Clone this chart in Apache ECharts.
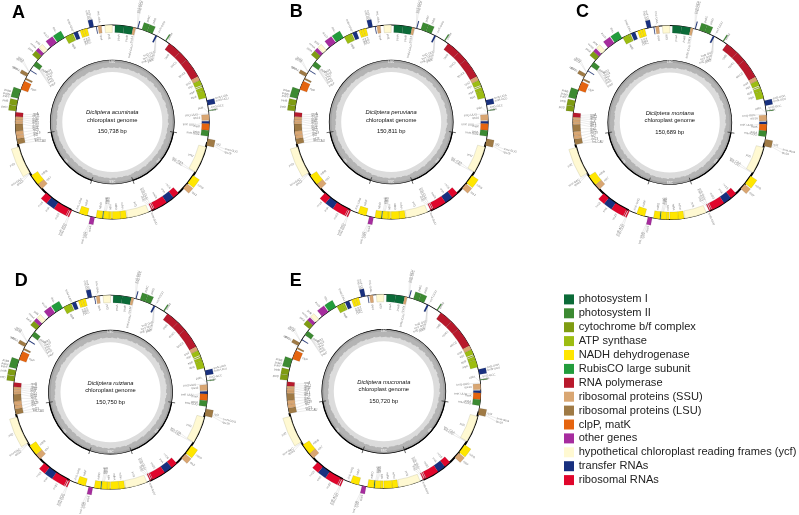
<!DOCTYPE html>
<html><head><meta charset="utf-8">
<style>html,body{margin:0;padding:0;background:#fff;overflow:hidden}#c{width:799px;height:515px;filter:blur(0.35px)}</style>
<script src="https://cdn.jsdelivr.net/npm/echarts@6/dist/echarts.min.js"></script>
</head><body><div id="c"></div>
<script>
// ---- genomes
const panelLetters=['A','B','C','D','E'];
const speciesNames=['Dicliptera acuminata','Dicliptera peruviana','Dicliptera montana','Dicliptera ruiziana','Dicliptera mucronata'];
const genomeSizes=['150,738 bp','150,811 bp','150,689 bp','150,750 bp','150,720 bp'];
// ---- legend
const groupNames=['photosystem I','photosystem II','cytochrome b/f complex','ATP synthase','NADH dehydrogenase','RubisCO large subunit','RNA polymerase','ribosomal proteins (SSU)','ribosomal proteins (LSU)','clpP, matK','other genes','hypothetical chloroplast reading frames (ycf)','transfer RNAs','ribosomal RNAs'];
const groupColors=['#0b6b38','#3c8a32','#7f9c12','#9dbd12','#ffe600','#229c3c','#b8192c','#d9a672','#9f7a45','#e5640f','#a62c9e','#fff9d2','#18307f','#e0062c'];
// ---- genes: position in degrees clockwise from the top of the map
const geneNames=['ycf3','psaA','psaB','rps14','','psbC','psbD','','','rpoB','rpoC1','rpoC2','rps2','atpI','','atpF','atpA','','','rps16','','matK','psbA','rpl2','ycf2','ndhB','rps7','rrn16','trnA','rrn23','','','ycf1','ndhH','ndhA','ndhI','','','ndhD','ccsA','ndhF','','','rrn23','trnA','rrn16','rps7','ndhB','ycf2','','','','','','','','','petD','petB','psbB','clpP','','rps12','','psbE','petA','cemA','ycf4','accD','rbcL','atpB','','','ndhC','ndhK','ndhJ','','','rps4'];
const geneStart=[355.6,1.6,7,12.5,15,17.7,21,26.5,33,36,44,50,62,64.5,68,69,71,77,83,85.5,89.5,91,95,100,105,123.5,129.5,137,141,146,154.3,155.4,158,171.5,175,180.4,182,185.5,186,190.5,195,204.5,205.7,206.5,214,219,226.5,230,238.5,256.7,260,262.2,264.6,268.8,270.2,271.7,273.2,276.5,279.7,284,289.5,296,298,302,305.5,310,313,315.5,320.5,325.5,331,335,336.5,340.5,342,343.5,346.5,350.3,351.5];
const geneEnd=[360,7,12.5,14,15.5,21,24.4,27.5,33.6,44,50,62,64.5,67.5,68.6,71,75.5,80,83.4,89,91,95,98.5,104,121,129,133,141,146,154,154.9,156,171,175,180,182,185.3,186,189.7,193,200,205.2,206.3,214,219,223,230,236.5,255,260,262.2,264.6,268.8,270.2,271.7,273.2,275.7,279.5,283,289.5,295,297,300,302.5,308.5,313,315,318,325,330.5,335,336,339,342,343.5,345,349,350.7,353.5];
const geneGroup=[11,0,0,7,12,1,1,12,1,6,6,6,7,3,3,3,3,12,1,7,12,9,1,8,11,4,7,13,12,13,13,13,11,4,4,4,4,0,4,10,4,13,13,13,12,13,7,4,11,8,7,7,8,7,7,7,6,2,2,1,9,8,8,12,1,2,10,11,10,5,3,3,12,4,4,4,12,12,7];
const geneSide=[-1,-1,-1,-1,1,1,1,-1,1,-1,-1,-1,-1,-1,-1,-1,-1,1,1,-1,-1,-1,-1,1,-1,1,1,-1,-1,-1,-1,-1,-1,-1,-1,-1,-1,-1,-1,1,-1,1,1,1,1,1,-1,-1,1,-1,-1,-1,-1,-1,-1,-1,-1,1,1,1,-1,-1,1,-1,-1,1,1,1,1,1,-1,-1,-1,-1,-1,-1,1,-1,-1];
// ---- labels joined to their gene by a thin line
const leaderNames=['trnS-GCU','trnG-UCC','trnT-GGU','psbM','trnS-GGA','trnT-UGU','trnL-UAA','trnM-CAU','rps18','rpl33','rpl20','psbT','psbN','trnS-UGA','trnR-UCU','trnG-GCC','psbK','trnH-GUG','rps19','rps12','trnV-GAC','trnN-GUU','rpl32','trnL-UAG','trnN-GUU','trnR-ACG',
  'trnfM-CAU','trnD-GUC','trnY-GUA','trnE-UUC','psbZ','psbI','trnQ-UUG','trnK-UUU','trnH-GUG','trnL-CAA','trnI-CAU','trnN-GUU','trnR-ACG','rrn5','trnL-UAG','ndhE','psaC','ndhG',
  'rpoA','rps11','rpl36','rps8','rpl14','rpl16','rps3','rpl22','rps19','rpl2','rpl23','trnI-CAU',
  'rpl33','rps18','psaJ','petL','petG','psbF'];
const leaderFrom=[15,15,27,33.3,347.5,347.5,350.5,337.5,301,301,297,285,285,78.5,78.5,83,83,102,102,238,238,156,192,192,205,205,
  14,27,27,27,27,84,85,90,97,121.5,121.5,155,155,155,201,185,185.7,185,
  274,273,272.5,272,271,269.5,266.5,263.5,261,258.5,258,257,
  307,307,307,307,307,307];
const leaderTo=[13.2,14,27.5,34,346.8,348,352.7,336.5,303.6,304.6,299,283.6,285,77,78.5,81.5,83,103.5,105,236.5,237.8,156.7,193,194,204.2,205.2,
  14.5,31.6,32.2,32.9,33.6,81,85,92,98,120.5,122,155.5,157,158.5,202,183.7,184.6,182.6,
  275.5,273.9,272.2,270.5,268.8,267.1,265.4,263.8,262.2,260.5,257.8,256,
  306.5,305.2,304,302.8,301.5,300];
const leaderRadius=[112,112,101,100,102,102,100,99,108,108,108,106,106,106,106,100,100,116,116,107,107,99,113,113,112,112,
  80,82.6,79,75.8,74.8,92,86,83,88,82,82,85,85,85,94,82,82,82,
  80,80,80,80,80,80,80,80,80,80,80,80,
  83,81,79,77,75,72];
const leaderSide=[1,1,1,1,1,1,1,1,1,1,1,1,1,1,1,1,1,1,1,1,1,1,1,1,1,1,
  -1,-1,-1,-1,-1,-1,-1,-1,-1,-1,-1,-1,-1,-1,-1,-1,-1,-1,
  -1,-1,-1,-1,-1,-1,-1,-1,-1,-1,-1,-1,
  -1,-1,-1,-1,-1,-1];
const leaderTilt=[null,null,null,null,null,null,null,null,null,null,null,null,null,null,null,null,null,null,null,null,null,null,null,null,null,null,
  null,20,20,20,20,null,null,null,null,null,null,null,null,null,null,null,null,null,
  0,0,0,0,0,0,0,0,0,0,0,0,
  25,25,25,25,25,25];
// ---- GC content: inner radius of the dark band, every 3 degrees clockwise from the top
const gcRadius=[54.6,54.2,55,54.4,54.8,55.4,54.6,55.2,54.8,55.6,55,55.4,56,55.2,55.8,56.2,55.4,56,55.6,56.4,56,55.4,56.2,56.6,55.8,56.4,56,56.6,56.2,55.6,56.4,55.8,55.2,55.8,55.2,55.6,54.8,55.4,54.8,55.2,54.6,55,54.6,54.4,55,54.4,54.8,55.2,54.6,55,55.4,54.8,55.2,55.6,56,55.4,56,55.6,56.4,55.8,56.6,56,56.4,55.8,56.2,55.6,56,55.2,55.6,54.8,55.2,54.6,55,54.4,54.8,54.4,55,54.6,55.2,54.8,55.4,55,55.4,56,55.6,56.2,55.8,56.4,56,55.4,55.8,55.2,55.6,56.2,55.8,56.4,56,55.4,55.8,56.2,55.6,55.2,55.6,55,55.4,54.8,55.2,54.6,54.8,54.2,54.6,55,54.4,54.8,54.2,54.6,55,54.4,54.8,54.2];
// ---- circles and ticks
const bandInner=[50,59.8];
const bandColors=['#dcdcdc','#a4a4a4'];
const ringRadius=[97,97,97,62,62,62];
const ringStart=[0,102,205,0,99.4,199.4];
const ringEnd=[360,156,257,360,160.6,260.6];
const ringWidth=[0.8,2,2,0.7,1.3,1.3];
const tickAngles=[99.4,160.6,199.4,260.6];
const regionNames=['LSC','IRA','SSC','IRB'];
const regionAngles=[0,130,180,230];
// ---- layout
const centerX=[112.3,391.2,669.8,110.5,383.8];
const centerY=[122,122,122.5,392.2,391.3];
const letterX=[19,296.7,583,21.7,296.7];
const letterY=[14,13.5,13.5,282,282];

const GENE_H=7.5, FONT="'Liberation Sans',Arial,sans-serif";
const rad=a=>(a-90)*Math.PI/180;
function radialText(p,a,side,txt,tilt){
  const right=a%360<180;
  let rot=right?(90-a)*Math.PI/180:(270-a)*Math.PI/180;
  if(tilt!=null)rot=tilt*Math.PI/180;
  const align=(right?side>0:side<0)?'left':'right';
  return {type:'text',x:p[0],y:p[1],rotation:rot,silent:true,
    style:{text:txt,x:0,y:0,align,verticalAlign:'middle',fill:'#7a7a7a',font:'2.9px '+FONT}};
}
function ctx(api){const c=api.coord([0,0]);const q=api.coord([100,0]);const u=Math.abs(c[1]-q[1])/100;return {c,u};}
function sec(api,r0,r1,a0,a1,style){const {c,u}=ctx(api);
  return {type:'sector',silent:true,shape:{cx:c[0],cy:c[1],r0:r0*u,r:r1*u,startAngle:rad(a0),endAngle:rad(a1),clockwise:true},style:Object.assign({stroke:'none',lineWidth:0},style)};}

function renderBase(params,api){
  return sec(api,50,62,0,360,{fill:bandColors[0]});
}
function renderGc(params,api){
  const a=api.value(1),r=api.value(0);
  return sec(api,r,62,a,a+3.8,{fill:'#b4b4b4'});
}
function renderOuterBand(params,api){
  return sec(api,bandInner[1],62,0,360,{fill:bandColors[1]});
}
function renderRing(params,api){
  const i=api.value(2),r=ringRadius[i],w=ringWidth[i]/2;
  return sec(api,r-w,r+w,ringStart[i],ringEnd[i],{fill:'#000'});
}
function renderTick(params,api){
  const a=api.value(1),p=api.coord([58.5,a]),q=api.coord([65.5,a]);
  return {type:'line',silent:true,shape:{x1:p[0],y1:p[1],x2:q[0],y2:q[1]},style:{stroke:'#222',lineWidth:0.7}};
}
function renderRegion(params,api){
  const i=api.value(2),a=regionAngles[i],p=api.coord([60.2,a]);
  const flip=a>90&&a<270;
  return {type:'text',x:p[0],y:p[1],rotation:(flip?180-a:-a)*Math.PI/180,silent:true,
    style:{text:regionNames[i],x:0,y:0,align:'center',verticalAlign:'middle',fill:'#fff',font:'3px '+FONT}};
}
function renderGene(params,api){
  const i=api.value(2),s=geneSide[i],g=geneGroup[i];
  const r0=s>0?97:97-GENE_H,r1=s>0?97+GENE_H:97;
  const kids=[sec(api,r0,r1,geneStart[i],geneEnd[i],{fill:groupColors[g],stroke:g===11?'#b5b08c':'rgba(40,40,40,.35)',lineWidth:0.3})];
  if(geneNames[i]){const m=(geneStart[i]+geneEnd[i])/2;
    kids.push(radialText(api.coord([s>0?106:88,m]),m,s,geneNames[i]));}
  return {type:'group',children:kids};
}
function renderLeader(params,api){
  const i=api.value(2),s=leaderSide[i];
  const p=api.coord([97+(s>0?0:-1),leaderFrom[i]]),q=api.coord([leaderRadius[i],leaderTo[i]]);
  return {type:'group',children:[
    {type:'line',silent:true,shape:{x1:p[0],y1:p[1],x2:q[0],y2:q[1]},style:{stroke:'#cfcfcf',lineWidth:0.4}},
    radialText(q,leaderTo[i],s,leaderNames[i],leaderTilt[i])]};
}

const polar=[],angleAxis=[],radiusAxis=[],series=[],graphic=[];
const base=(k,render,data)=>({type:'custom',coordinateSystem:'polar',polarIndex:k,renderItem:render,encode:{radius:0,angle:1},data,animation:false,silent:true,legendHoverLink:false,tooltip:{show:false}});
panelLetters.forEach((L,k)=>{
  polar.push({center:[centerX[k],centerY[k]],radius:130});
  angleAxis.push({polarIndex:k,type:'value',min:0,max:360,startAngle:90,clockwise:true,show:false});
  radiusAxis.push({polarIndex:k,type:'value',min:0,max:130,show:false});
  series.push(base(k,renderBase,[[bandInner[0],0,0]]));
  series.push(base(k,renderGc,gcRadius.map((r,i)=>[r,i*3,i])));
  series.push(base(k,renderOuterBand,[[bandInner[1],0,1]]));
  series.push(base(k,renderRing,ringRadius.map((r,i)=>[r,ringStart[i],i])));
  series.push(base(k,renderTick,tickAngles.map(a=>[62,a])));
  series.push(base(k,renderRegion,regionAngles.map((a,i)=>[60,a,i])));
  series.push(base(k,renderLeader,leaderNames.map((n,i)=>[leaderRadius[i],leaderTo[i],i])));
  series.push(base(k,renderGene,geneNames.map((n,i)=>[97,geneStart[i],i])));
  graphic.push({type:'text',left:letterX[k]-7,top:letterY[k]-10,style:{text:L,font:'bold 18px '+FONT,fill:'#000'}});
  graphic.push({type:'text',x:centerX[k],y:centerY[k]-9.3,style:{text:speciesNames[k],font:'italic 5.8px '+FONT,fill:'#111',align:'center',verticalAlign:'middle'}});
  graphic.push({type:'text',x:centerX[k],y:centerY[k]-2,style:{text:'chloroplast genome',font:'5.8px '+FONT,fill:'#111',align:'center',verticalAlign:'middle'}});
  graphic.push({type:'text',x:centerX[k],y:centerY[k]+9.7,style:{text:genomeSizes[k],font:'5.8px '+FONT,fill:'#111',align:'center',verticalAlign:'middle'}});
});
groupNames.forEach((n,i)=>series.push({type:'custom',coordinateSystem:'none',name:n,renderItem:()=>null,data:[],itemStyle:{color:groupColors[i],borderWidth:0}}));

echarts.init(document.getElementById('c'),null,{renderer:'canvas'}).setOption({
  animation:false,backgroundColor:'#fff',polar,angleAxis,radiusAxis,series,graphic,
  legend:{data:groupNames,orient:'vertical',left:564,top:293.4,padding:0,itemWidth:10,itemHeight:10,itemGap:1.9,selectedMode:false,icon:'rect',
    textStyle:{fontFamily:'Liberation Sans',fontSize:11.1,color:'#222',lineHeight:12,padding:[0,0,0,-0.3]}}
});
</script></body></html>
